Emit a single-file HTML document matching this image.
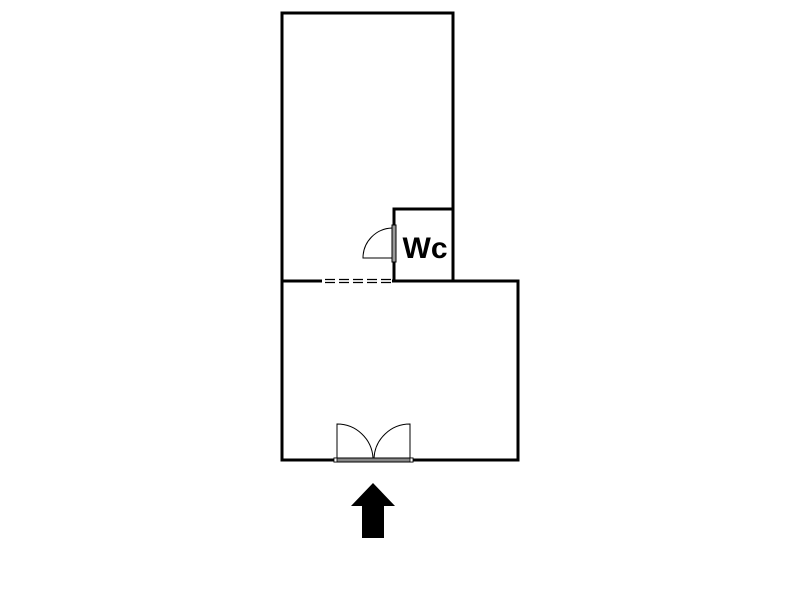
<!DOCTYPE html>
<html><head><style>html,body{margin:0;padding:0;background:#fff;width:800px;height:600px;overflow:hidden}</style></head>
<body>
<svg width="800" height="600" viewBox="0 0 800 600" xmlns="http://www.w3.org/2000/svg">
<g fill="none" stroke="#000" stroke-width="3">
<polyline points="282,281 282,13 453,13 453,209"/>
<polyline points="394,225 394,209 453,209 453,281"/>
<line x1="394" y1="262" x2="394" y2="281"/>
<polyline points="322,281 282,281 282,460 334,460"/>
<polyline points="413,460 518,460 518,281 392,281"/>
</g>
<g stroke="#000" stroke-width="1.3" stroke-dasharray="10,4">
<line x1="325" y1="279.5" x2="392" y2="279.5"/>
<line x1="325" y1="282.5" x2="392" y2="282.5"/>
</g>
<rect x="392" y="225" width="4" height="37" fill="#999" stroke="#000" stroke-width="1"/>
<path d="M392,228 A30,30 0 0 0 363,258 L392,258" fill="none" stroke="#000" stroke-width="1"/>
<rect x="334" y="458" width="79" height="4" fill="#888" stroke="#000" stroke-width="1"/>
<rect x="334" y="458" width="3" height="4" fill="#fff" stroke="#000" stroke-width="0.8"/>
<rect x="410" y="458" width="3" height="4" fill="#fff" stroke="#000" stroke-width="0.8"/>
<path d="M337,458 L337,424 A36,36 0 0 1 373,458" fill="none" stroke="#000" stroke-width="1"/>
<path d="M410,458 L410,424 A36,36 0 0 0 374,458" fill="none" stroke="#000" stroke-width="1"/>
<polygon points="373,483 395,506 384,506 384,538 362,538 362,506 351,506" fill="#000"/>
<text x="425" y="258" font-family="Liberation Sans, sans-serif" font-weight="bold" font-size="30" text-anchor="middle">Wc</text>
</svg>
</body></html>
